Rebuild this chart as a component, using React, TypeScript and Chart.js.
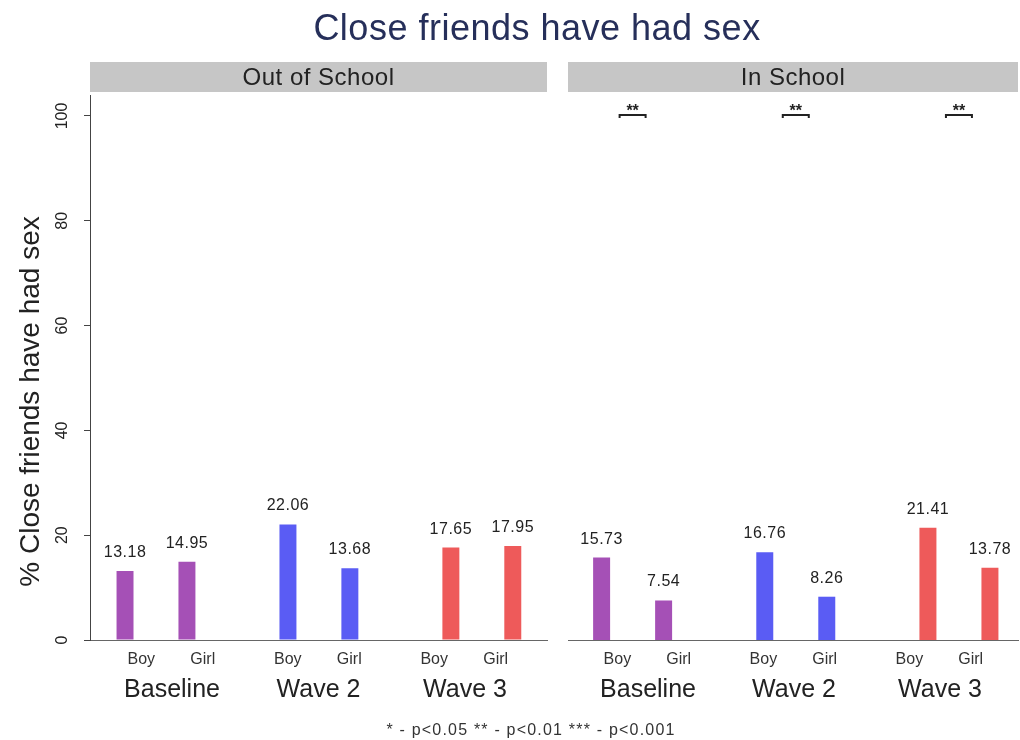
import React, { useEffect, useRef } from 'react';
import { Chart, registerables } from 'chart.js';

Chart.register(...registerables);

// ---------- data ----------
const mainTitle = 'Close friends have had sex';
const yTitle = '% Close friends have had sex';
const footnote = '* - p<0.05 ** - p<0.01 *** - p<0.001';
const panels = ['Out of School', 'In School'];
const waves = ['Baseline', 'Wave 2', 'Wave 3'];
const sexes = ['Boy', 'Girl'];
const outBoy = [13.18, 22.06, 17.65];
const outGirl = [14.95, 13.68, 17.95];
const inBoy = [15.73, 16.76, 21.41];
const inGirl = [7.54, 8.26, 13.78];
const outSig = ['', '', ''];
const inSig = ['**', '**', '**'];
const yTickStep = 20;
const yMax = 104;
const waveColors = ['#a550b6', '#5a5cf4', '#ee5a5a'];

// ---------- style ----------
const FONT = '"Liberation Sans", Arial, Helvetica, sans-serif';
const TEXT = '#222222';

const decorPlugin = {
  id: 'decor',
  beforeDraw(chart: any, _args: any, opts: any) {
    const { ctx, chartArea } = chart;
    ctx.save();
    ctx.fillStyle = '#c6c6c6';
    ctx.fillRect(chartArea.left, 62, chartArea.right - chartArea.left, 30);
    ctx.fillStyle = TEXT;
    ctx.font = `24px ${FONT}`;
    (ctx as any).letterSpacing = '0.5px';
    ctx.textAlign = 'center';
    ctx.textBaseline = 'middle';
    ctx.fillText(opts.header, (chartArea.left + chartArea.right) / 2, 78);
    ctx.restore();
  },
  afterDatasetsDraw(chart: any, _args: any, opts: any) {
    const { ctx } = chart;
    ctx.save();
    ctx.fillStyle = TEXT;
    ctx.font = `16px ${FONT}`;
    (ctx as any).letterSpacing = '0.5px';
    ctx.textAlign = 'center';
    ctx.textBaseline = 'alphabetic';
    chart.data.datasets.forEach((ds: any, di: number) => {
      const meta = chart.getDatasetMeta(di);
      meta.data.forEach((el: any, i: number) => {
        const v = ds.data[i].y;
        ctx.fillText(v.toFixed(2), el.x, el.y - 14);
      });
    });
    // significance brackets
    const xs = chart.scales.x;
    const ys = chart.scales.y;
    (opts.sig || []).forEach((s: string, i: number) => {
      if (!s) return;
      const cx = xs.getPixelForValue(i + 1);
      const y = ys.getPixelForValue(100) - 1;
      ctx.strokeStyle = '#222';
      ctx.lineWidth = 2;
      ctx.beginPath();
      ctx.moveTo(cx - 13, y + 3);
      ctx.lineTo(cx - 13, y);
      ctx.lineTo(cx + 13, y);
      ctx.lineTo(cx + 13, y + 3);
      ctx.stroke();
      ctx.font = `bold 16px ${FONT}`;
      (ctx as any).letterSpacing = '0px';
      ctx.fillText(s, cx, y + 1);
    });
    ctx.restore();
  },
  afterDraw(chart: any, _args: any, opts: any) {
    if (!opts.main) return;
    const { ctx, chartArea } = chart;
    ctx.save();
    ctx.textAlign = 'center';
    ctx.textBaseline = 'alphabetic';
    ctx.fillStyle = '#262f5a';
    ctx.font = `36px ${FONT}`;
    (ctx as any).letterSpacing = '0.5px';
    ctx.fillText(mainTitle, 537, 40);
    ctx.fillStyle = '#333333';
    ctx.font = `16px ${FONT}`;
    (ctx as any).letterSpacing = '1.2px';
    ctx.fillText(footnote, 531, 735);
    // y axis title
    ctx.fillStyle = TEXT;
    ctx.font = `28px ${FONT}`;
    (ctx as any).letterSpacing = '0px';
    ctx.translate(31, (chartArea.top + chartArea.bottom) / 2 + 34);
    ctx.rotate(-Math.PI / 2);
    ctx.textBaseline = 'middle';
    ctx.fillText(yTitle, 0, 0);
    ctx.restore();
  },
};

function makeConfig(
  header: string,
  boy: number[],
  girl: number[],
  sig: string[],
  showY: boolean,
  pad: { left: number; right: number },
  barRange: [number, number],
  labelRange: [number, number],
  main: boolean
): any {
  const toPts = (arr: number[]) => arr.map((v, i) => ({ x: i + 1, y: v }));
  return {
    type: 'bar',
    data: {
      datasets: [
        { label: sexes[0], data: toPts(boy), backgroundColor: waveColors, borderWidth: 0 },
        { label: sexes[1], data: toPts(girl), backgroundColor: waveColors, borderWidth: 0 },
      ],
    },
    options: {
      animation: false,
      responsive: false,
      events: [],
      categoryPercentage: 0.76,
      barPercentage: 0.274,
      layout: { padding: { top: 95, left: pad.left, right: pad.right, bottom: 0 } },
      plugins: {
        legend: { display: false },
        tooltip: { enabled: false },
        decor: { header, sig, main },
      },
      scales: {
        x: {
          type: 'linear',
          position: 'bottom',
          weight: 0,
          min: barRange[0],
          max: barRange[1],
          offset: false,
          grid: { display: false, drawTicks: false, tickLength: 0, offset: false },
          border: { display: true, color: '#666666', width: 1 },
          afterBuildTicks: (s: any) => {
            s.ticks = waves.map((_w, i) => ({ value: i + 1 }));
          },
          ticks: { display: false },
          afterFit: (s: any) => {
            s.height = 0;
          },
        },
        xs: {
          type: 'linear',
          position: 'bottom',
          weight: 1,
          min: labelRange[0],
          max: labelRange[1],
          offset: false,
          grid: { display: false, drawTicks: false, tickLength: 0, offset: false },
          border: { display: false },
          afterBuildTicks: (s: any) => {
            s.ticks = waves.flatMap((_w, i) =>
              sexes.map((_x, j) => ({ value: i + 1 + (j === 0 ? -0.21 : 0.21) }))
            );
          },
          ticks: {
            autoSkip: false,
            maxRotation: 0,
            minRotation: 0,
            padding: 10,
            color: '#333333',
            font: { size: 16, family: FONT },
            callback: (_v: any, i: number) => sexes[i % sexes.length],
          },
          afterFit: (s: any) => {
            s.height = 30;
          },
        },
        xl: {
          type: 'linear',
          position: 'bottom',
          weight: 2,
          min: labelRange[0],
          max: labelRange[1],
          offset: false,
          grid: { display: false, drawTicks: false, tickLength: 0, offset: false },
          border: { display: false },
          afterBuildTicks: (s: any) => {
            s.ticks = waves.map((_w, i) => ({ value: i + 1 }));
          },
          ticks: {
            autoSkip: false,
            maxRotation: 0,
            minRotation: 0,
            padding: 5,
            color: TEXT,
            font: { size: 25, family: FONT },
            callback: (_v: any, i: number) => waves[i],
          },
          afterFit: (s: any) => {
            s.height = 70;
          },
        },
        y: {
          type: 'linear',
          display: showY,
          min: 0,
          max: yMax,
          grid: { display: true, drawOnChartArea: false, drawTicks: true, tickLength: 6, color: '#444444' },
          border: { display: true, color: '#444444', width: 1 },
          ticks: {
            stepSize: yTickStep,
            includeBounds: false,
            minRotation: 90,
            maxRotation: 90,
            crossAlign: 'center',
            padding: 8,
            color: TEXT,
            font: { size: 16, family: FONT },
          },
          title: { display: false },
          afterFit: (s: any) => {
            if (showY) s.width = 90;
          },
        },
      },
    },
    plugins: [decorPlugin],
  };
}

export default function App() {
  const leftRef = useRef<HTMLCanvasElement>(null);
  const rightRef = useRef<HTMLCanvasElement>(null);

  useEffect(() => {
    const left = new Chart(
      leftRef.current as HTMLCanvasElement,
      makeConfig(panels[0], outBoy, outGirl, outSig, true, { left: 0, right: 473 }, [0.595, 3.4], [0.44, 3.56], true)
    );
    const right = new Chart(
      rightRef.current as HTMLCanvasElement,
      makeConfig(panels[1], inBoy, inGirl, inSig, false, { left: 568, right: 2 }, [0.604, 3.362], [0.452, 3.534], false)
    );
    return () => {
      left.destroy();
      right.destroy();
    };
  }, []);

  return (
    <div style={{ position: 'absolute', left: 0, top: 0, width: 1020, height: 740, background: '#ffffff' }}>
      <canvas ref={leftRef} width={1020} height={740} style={{ position: 'absolute', left: 0, top: 0 }} />
      <canvas ref={rightRef} width={1020} height={740} style={{ position: 'absolute', left: 0, top: 0 }} />
    </div>
  );
}
